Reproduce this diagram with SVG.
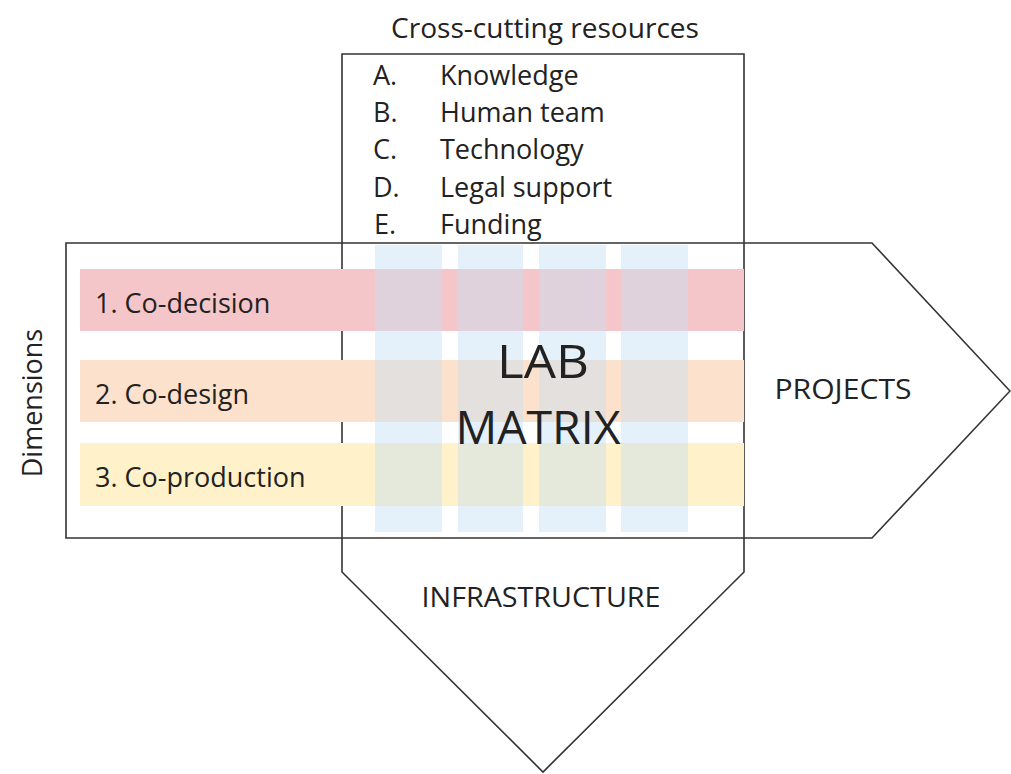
<svg xmlns="http://www.w3.org/2000/svg" width="1011" height="774" viewBox="0 0 1011 774">
<style>
.outline{fill:none;stroke:#333;stroke-width:1.6;stroke-linejoin:miter}
.t{font-family:"Open Sans","Noto Sans",sans-serif;fill:#222;font-size:27px}
.big{font-size:46px}
.col{fill:#c5e0f5;opacity:0.45}
</style>
<rect width="1011" height="774" fill="#fff"/>
<g id="connectors"></g>
<g id="resources-shape">
<polygon class="outline" points="342,54 744,54 744,572 543,772 342,572"/>
</g>
<g id="projects-shape">
<polygon class="outline" points="66,243 872,243 1010,391 872,538 66,538"/>
</g>
<g id="dimensions">
<rect id="band1" x="80" y="269" width="664" height="62" fill="#f5c6c9"/>
<rect id="band2" x="80" y="360" width="664" height="62" fill="#fce1cd"/>
<rect id="band3" x="80" y="443" width="664" height="63" fill="#fff1c9"/>
</g>
<g id="resource-columns">
<rect class="col" x="375" y="245" width="67" height="287"/>
<rect class="col" x="458" y="245" width="65" height="287"/>
<rect class="col" x="539" y="245" width="67" height="287"/>
<rect class="col" x="621" y="245" width="67" height="287"/>
</g>
<g id="title">
<text class="t" x="545" y="38" text-anchor="middle" textLength="308" lengthAdjust="spacingAndGlyphs">Cross-cutting resources</text>
</g>
<g id="resource-list">
<text class="t" x="373" y="85">A.</text><text class="t" x="440" y="85">Knowledge</text>
<text class="t" x="373" y="122">B.</text><text class="t" x="440" y="122">Human team</text>
<text class="t" x="373" y="159">C.</text><text class="t" x="440" y="159">Technology</text>
<text class="t" x="373" y="197">D.</text><text class="t" x="440" y="197">Legal support</text>
<text class="t" x="374" y="234">E.</text><text class="t" x="440" y="234">Funding</text>
</g>
<g id="dimension-labels">
<text class="t" x="95" y="313">1. Co-decision</text>
<text class="t" x="95" y="404">2. Co-design</text>
<text class="t" x="95" y="487">3. Co-production</text>
</g>
<g id="lab-matrix">
<text class="t big" x="543" y="378" text-anchor="middle" textLength="92" lengthAdjust="spacingAndGlyphs">LAB</text>
<text class="t big" x="538" y="444" text-anchor="middle" textLength="165" lengthAdjust="spacingAndGlyphs">MATRIX</text>
</g>
<g id="projects-label">
<text class="t" x="843" y="399" text-anchor="middle" textLength="137" lengthAdjust="spacingAndGlyphs">PROJECTS</text>
</g>
<g id="infrastructure-label">
<text class="t" x="541" y="607" text-anchor="middle" textLength="239" lengthAdjust="spacingAndGlyphs">INFRASTRUCTURE</text>
</g>
<g id="dimensions-label">
<text class="t" transform="translate(42,403) rotate(-90)" text-anchor="middle">Dimensions</text>
</g>
</svg>
